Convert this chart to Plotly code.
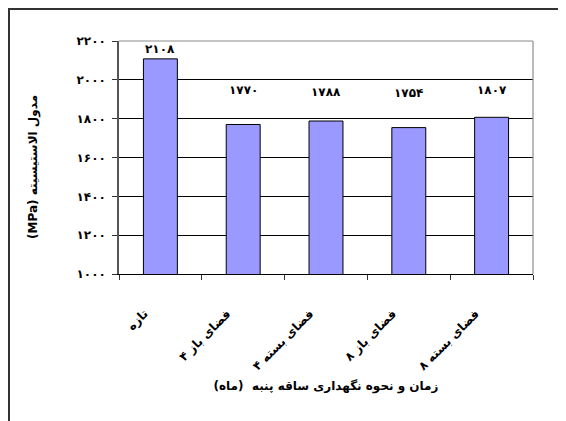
import plotly.graph_objects as go

categories = ["تازه", "فضای باز ۴", "فضای بسته ۴", "فضای باز ۸", "فضای بسته ۸"]
values = [2108, 1770, 1788, 1754, 1807]
value_labels = ["۲۱۰۸", "۱۷۷۰", "۱۷۸۸", "۱۷۵۴", "۱۸۰۷"]
y_tick_values = [1000, 1200, 1400, 1600, 1800, 2000, 2200]
y_tick_labels = ["۱۰۰۰", "۱۲۰۰", "۱۴۰۰", "۱۶۰۰", "۱۸۰۰", "۲۰۰۰", "۲۲۰۰"]
y_title = "(MPa) مدول الاستیسیته"
x_title = "زمان و نحوه نگهداری ساقه پنبه  (ماه)"
label_shifts = [10, 34, 29, 35, 27]

FONT = "DejaVu Sans"

fig = go.Figure()
fig.add_trace(go.Bar(
    x=categories, y=values,
    marker=dict(color="#9999FF", line=dict(color="#000000", width=1)),
    width=0.41,
    hoverinfo="skip",
))

for c, v, t, s in zip(categories, values, value_labels, label_shifts):
    fig.add_annotation(x=c, y=v, text="<b>" + t + "</b>", showarrow=False,
                       yshift=s, font=dict(family=FONT, size=12, color="black"),
                       xref="x", yref="y")

# y-axis title as rotated annotation (for exact placement)
fig.add_annotation(xref="paper", yref="paper", x=-0.228, y=0.46,
                   text="<b>" + y_title + "</b>", textangle=-90, showarrow=False,
                   font=dict(family=FONT, size=12, color="black"))

fig.update_layout(
    width=558, height=413,
    margin=dict(l=111, r=33, t=33, b=147, autoexpand=False),
    paper_bgcolor="white", plot_bgcolor="white",
    showlegend=False,
    font=dict(family=FONT, size=12, color="black"),
    xaxis=dict(
        type="category",
        tickson="boundaries",
        ticks="outside", ticklen=5, tickcolor="#333",
        tickangle=-45,
        tickfont=dict(family=FONT, size=12, color="black", weight="bold"),
        showline=True, linecolor="#000", linewidth=1,
        showgrid=False,
        ticklabelstandoff=27,
        ticklabelshift=-16,
        range=[-0.5, 4.5],
        title=dict(text="<b>" + x_title + "</b>",
                   font=dict(family=FONT, size=12, color="black"),
                   standoff=9),
    ),
    yaxis=dict(
        range=[1000, 2200],
        tickvals=y_tick_values, ticktext=y_tick_labels,
        ticks="outside", ticklen=5, tickcolor="#333",
        tickfont=dict(family=FONT, size=12, color="black", weight="bold"),
        showline=True, linecolor="#555", linewidth=1.5,
        showgrid=True, gridcolor="#000", gridwidth=1,
        zeroline=False,
        ticklabelstandoff=4,
    ),
)

# plot area frame (top/right) in grey
fig.add_shape(type="line", xref="paper", yref="paper", x0=0, y0=1, x1=1, y1=1,
              line=dict(color="#8c8c8c", width=1.2), layer="above")
fig.add_shape(type="line", xref="paper", yref="paper", x0=1, y0=0, x1=1, y1=1,
              line=dict(color="#8c8c8c", width=1.2), layer="above")
# outer chart border (left and top edges visible)
fig.add_shape(type="rect", xref="paper", yref="paper",
              x0=-0.2657, y0=-0.7, x1=1.2, y1=1.1373,
              line=dict(color="#333", width=2), layer="below")

fig.write_html("out.html")
